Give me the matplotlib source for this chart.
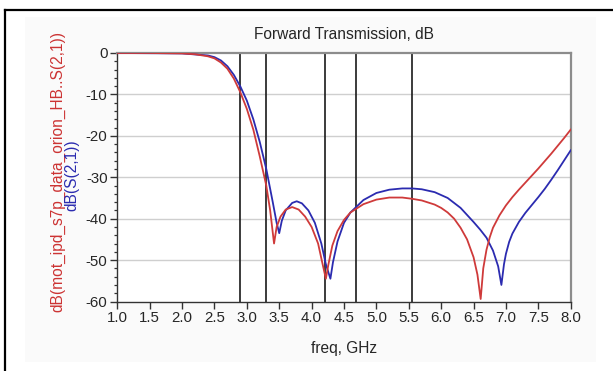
import matplotlib
matplotlib.use("Agg")
import matplotlib.pyplot as plt
from matplotlib.lines import Line2D
from matplotlib.patches import Rectangle
from matplotlib.ticker import MultipleLocator

plt.rcParams['font.family'] = ['Liberation Sans', 'DejaVu Sans']

# Measured S21 (red)
freq_meas = [1.0, 1.5, 2.0, 2.2, 2.4, 2.5, 2.6, 2.7, 2.8, 2.9, 3.0, 3.1, 3.2, 3.3,
             3.36, 3.42, 3.46, 3.52, 3.6, 3.7, 3.8, 3.9, 4.0, 4.1, 4.17, 4.22,
             4.26, 4.32, 4.4, 4.5, 4.6, 4.8, 5.0, 5.2, 5.4, 5.55, 5.7, 5.9, 6.0,
             6.1, 6.2, 6.3, 6.4, 6.5, 6.56, 6.61, 6.65, 6.7, 6.75, 6.8, 6.9, 7.0,
             7.1, 7.2, 7.3, 7.4, 7.5, 7.6, 7.7, 7.8, 7.9, 8.0]
s21_meas = [0.0, 0.0, -0.1, -0.3, -0.8, -1.3, -2.3, -3.8, -6.2, -9.5, -13.5, -18.5,
            -25.0, -32.0, -38.0, -46.0, -42.0, -39.5, -37.8, -37.2, -37.8, -39.5,
            -42.0, -46.0, -51.0, -54.5, -51.0, -46.5, -43.0, -40.3, -38.5, -36.5,
            -35.4, -34.9, -34.9, -35.2, -35.6, -36.6, -37.4, -38.5, -40.0, -42.2,
            -45.0, -49.3, -53.5, -59.4, -52.0, -47.5, -44.5, -42.2, -39.2, -36.8,
            -34.8, -33.0, -31.3, -29.6, -27.9, -26.1, -24.3, -22.4, -20.5, -18.5]

# Simulated S21 (blue)
freq_sim = [1.0, 2.0, 2.4, 2.5, 2.6, 2.7, 2.8, 2.9, 3.0, 3.1, 3.2, 3.3, 3.4, 3.46,
            3.5, 3.54, 3.6, 3.7, 3.77, 3.85, 3.95, 4.05, 4.15, 4.22, 4.29, 4.33,
            4.4, 4.5, 4.6, 4.8, 5.0, 5.2, 5.4, 5.55, 5.7, 5.9, 6.1, 6.3, 6.5,
            6.6, 6.7, 6.8, 6.88, 6.93, 6.97, 7.0, 7.05, 7.1, 7.2, 7.3, 7.4, 7.5,
            7.6, 7.7, 7.8, 7.9, 8.0]
s21_sim = [0.0, -0.1, -0.6, -1.0, -1.8, -3.2, -5.3, -8.1, -11.5, -16.0, -21.5,
           -28.0, -36.0, -41.0, -43.5, -40.5, -38.0, -36.2, -35.8, -36.3, -38.0,
           -41.0, -46.0, -51.0, -54.5, -50.5, -45.5, -41.0, -38.5, -35.5, -33.8,
           -33.0, -32.7, -32.7, -32.9, -33.6, -35.0, -37.4, -40.8, -42.6, -44.6,
           -47.7, -51.5, -56.0, -51.0, -48.5, -45.6, -43.6, -40.8, -38.6, -36.7,
           -34.8, -32.8, -30.6, -28.3, -25.9, -23.5]

# Marker frequencies (GHz)
marker_freqs = [2.9, 3.29, 4.21, 4.685, 5.545]

x_ticks = [1.0, 1.5, 2.0, 2.5, 3.0, 3.5, 4.0, 4.5, 5.0, 5.5, 6.0, 6.5, 7.0, 7.5, 8.0]
y_ticks = [0, -10, -20, -30, -40, -50, -60]

W, H = 613, 371
fig = plt.figure(figsize=(W / 100, H / 100), dpi=100)
fig.patch.set_facecolor('white')

# light panel and outer frame
fig.add_artist(Rectangle((25 / W, 1 - 362 / H), 571 / W, 345 / H,
                         transform=fig.transFigure, facecolor='#fafafa',
                         edgecolor='none', zorder=-10))
fig.add_artist(Line2D([5 / W, 1.0], [1 - 9.5 / H, 1 - 9.5 / H],
                      transform=fig.transFigure, color='black', lw=1.6))
fig.add_artist(Line2D([5 / W, 5 / W], [0.0, 1 - 9.5 / H],
                      transform=fig.transFigure, color='black', lw=1.6))

left, right = 117.3 / W, 570.7 / W
bottom, top = 1 - 301.5 / H, 1 - 53 / H
ax = fig.add_axes([left, bottom, right - left, top - bottom])
ax.set_facecolor('white')

ax.set_xlim(1.0, 8.0)
ax.set_ylim(-60, 0)

for yv in y_ticks[1:-1]:
    ax.axhline(yv, color='#cfcfcf', lw=1.0, zorder=1)

for fm in marker_freqs:
    ax.axvline(fm, color='#1a1a1a', lw=1.2, zorder=2)

ax.plot(freq_meas, s21_meas, color='#cf3a3a', lw=1.3, zorder=4)
ax.plot(freq_sim, s21_sim, color='#2b2bb0', lw=1.3, zorder=3)

ax.set_xticks(x_ticks)
ax.set_xticklabels([f"{v:.1f}" for v in x_ticks])
ax.set_yticks(y_ticks)
ax.set_yticklabels([str(v) for v in y_ticks])
ax.yaxis.set_minor_locator(MultipleLocator(2))

ax.tick_params(axis='both', which='major', direction='out', length=5,
               width=1.0, color='#333333', labelsize=10.8, pad=2,
               labelcolor='#262626')
ax.tick_params(axis='y', which='minor', direction='out', length=2.2,
               width=0.9, color='#333333')

ax.spines['left'].set_color('#333333')
ax.spines['bottom'].set_color('#333333')
ax.spines['left'].set_linewidth(1.0)
ax.spines['bottom'].set_linewidth(1.0)
ax.spines['top'].set_color('#8c8c8c')
ax.spines['right'].set_color('#8c8c8c')
ax.spines['top'].set_linewidth(1.6)
ax.spines['right'].set_linewidth(1.6)

ax.set_title("Forward Transmission, dB", fontsize=11.2, color='#262626', pad=10)
ax.set_xlabel("freq, GHz", fontsize=11.2, color='#262626', labelpad=11)

fig.text(58 / W, 1 - 171 / H, "dB(mot_ipd_s7p_data_orion_HB..S(2,1))",
         rotation=90, ha='center', va='center', fontsize=11.2, color='#cc3333')
fig.text(72 / W, 1 - 175 / H, "dB(S(2,1))", rotation=90, ha='center',
         va='center', fontsize=11.2, color='#2b2bb0')

fig.savefig("out.png", dpi=100)
